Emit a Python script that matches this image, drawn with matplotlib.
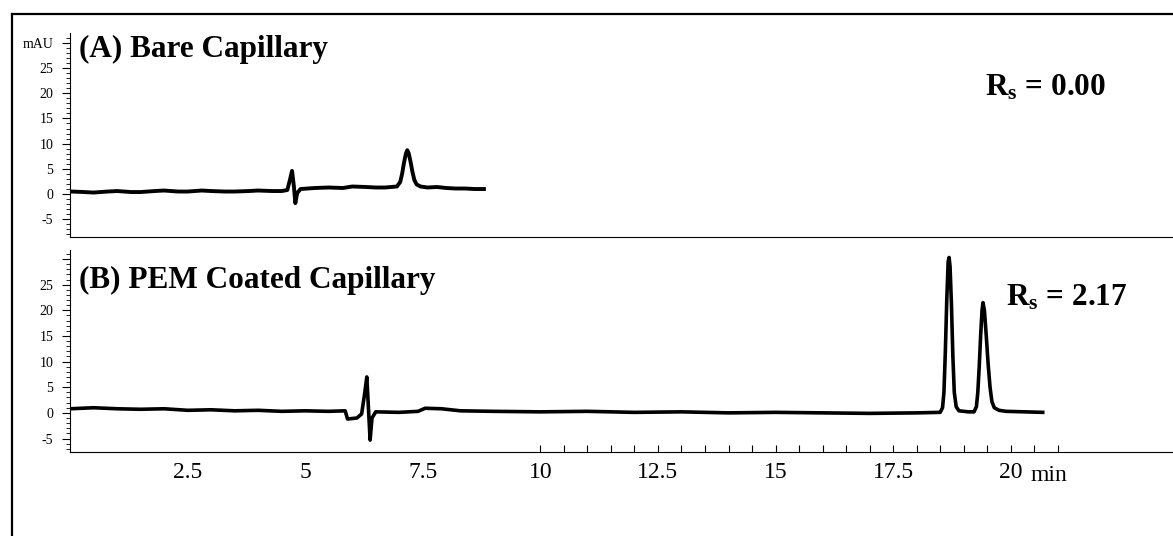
import matplotlib
matplotlib.use("Agg")
import matplotlib.pyplot as plt
from matplotlib.lines import Line2D

plt.rcParams['font.family'] = ['Liberation Serif', 'DejaVu Serif']
plt.rcParams['mathtext.fontset'] = 'custom'
plt.rcParams['mathtext.rm'] = 'Liberation Serif'
plt.rcParams['mathtext.it'] = 'Liberation Serif:italic'
plt.rcParams['mathtext.bf'] = 'Liberation Serif:bold'

# (A) bare capillary trace, time in min, signal in mAU
time_a = [0.04, 0.3, 0.5, 0.8, 1.0, 1.3, 1.5, 1.8, 2.0, 2.3, 2.5, 2.8, 3.0,
          3.3, 3.5, 3.8, 4.0, 4.3, 4.5, 4.62, 4.68, 4.72, 4.76, 4.79, 4.83,
          4.9, 5.2, 5.5, 5.8, 6.0, 6.3, 6.5, 6.7, 6.95, 7.02, 7.06, 7.10,
          7.14, 7.17, 7.20, 7.24, 7.28, 7.32, 7.37, 7.45, 7.6, 7.8, 8.0,
          8.2, 8.4, 8.6, 8.8]
signal_a = [0.5, 0.4, 0.3, 0.5, 0.6, 0.4, 0.4, 0.6, 0.7, 0.5, 0.5, 0.7, 0.6,
            0.5, 0.5, 0.6, 0.7, 0.6, 0.6, 0.8, 3.0, 4.6, 1.5, -1.8, 0.2,
            1.0, 1.2, 1.3, 1.2, 1.5, 1.4, 1.3, 1.3, 1.5, 2.4, 4.0, 6.2,
            8.0, 8.7, 8.1, 6.4, 4.4, 2.8, 1.9, 1.5, 1.3, 1.4, 1.2,
            1.1, 1.1, 1.0, 1.0]

# (B) PEM coated capillary trace
time_b = [0.0, 0.5, 1.0, 1.5, 2.0, 2.5, 3.0, 3.5, 4.0, 4.5, 5.0, 5.5, 5.85,
          5.9, 6.1, 6.2, 6.26, 6.31, 6.35, 6.38, 6.42, 6.5, 7.0, 7.4, 7.55,
          7.9, 8.3, 9.0, 10.0, 11.0, 12.0, 13.0, 14.0, 15.0, 16.0, 17.0,
          18.0, 18.5, 18.55, 18.58, 18.61, 18.64, 18.67, 18.69, 18.71, 18.74,
          18.77, 18.80, 18.84, 18.9, 19.1, 19.22, 19.27, 19.30, 19.33, 19.36,
          19.39, 19.41, 19.44, 19.48, 19.52, 19.56, 19.60, 19.65, 19.75,
          19.9, 20.3, 20.68]
signal_b = [0.8, 1.0, 0.8, 0.7, 0.8, 0.5, 0.6, 0.4, 0.5, 0.3, 0.4, 0.3, 0.4,
            -1.2, -1.0, -0.2, 3.5, 7.0, 0.0, -5.3, -1.0, 0.2, 0.1, 0.3, 0.9,
            0.8, 0.4, 0.3, 0.2, 0.3, 0.1, 0.2, 0.0, 0.1, 0.0, -0.1,
            0.0, 0.1, 1.0, 4.0, 12.0, 22.0, 29.5, 30.3, 28.5, 21.0,
            11.0, 4.0, 1.2, 0.4, 0.2, 0.2, 1.2, 4.0, 9.0, 15.0,
            20.0, 21.5, 20.0, 15.0, 9.5, 5.0, 2.2, 1.0, 0.5,
            0.3, 0.2, 0.1]

panel_labels = ["(A) Bare Capillary", "(B) PEM Coated Capillary"]
rs_labels = [r"R$_{\mathbf{s}}$ = 0.00", r"R$_{\mathbf{s}}$ = 2.17"]
x_ticks = [2.5, 5, 7.5, 10, 12.5, 15, 17.5, 20]
y_ticks = [-5, 0, 5, 10, 15, 20, 25, 30]

fig = plt.figure(figsize=(11.73, 5.36), dpi=100)
ax1 = fig.add_axes([0.0597, 0.558, 0.9403, 0.380])
ax2 = fig.add_axes([0.0597, 0.157, 0.9403, 0.377])

for ax in (ax1, ax2):
    ax.spines['top'].set_visible(False)
    ax.spines['right'].set_visible(False)
    ax.set_xlim(0, 23.45)
    ax.set_yticks(y_ticks)
    ax.set_yticks(range(-8, 32), minor=True)
    ax.tick_params(axis='y', which='major', direction='out', length=6,
                   width=0.8, labelsize=10, pad=6)
    ax.tick_params(axis='y', which='minor', direction='out', length=3,
                   width=0.6)

ax1.plot(time_a, signal_a, color='black', lw=2.8, solid_joinstyle='round')
ax1.set_ylim(-8.5, 31.9)
ax1.set_yticklabels(["-5", "0", "5", "10", "15", "20", "25", "mAU"])
ax1.set_xticks([])
ax1.text(0.2, 28.6, panel_labels[0], fontsize=22.5, fontweight='bold', va='center')
ax1.text(19.45, 21, rs_labels[0], fontsize=22.5, fontweight='bold', va='center')

ax2.plot(time_b, signal_b, color='black', lw=2.6, solid_joinstyle='round')
ax2.set_ylim(-7.6, 31.8)
ax2.set_yticklabels(["-5", "0", "5", "10", "15", "20", "25", ""])
ax2.xaxis.remove_overlapping_locs = False
ax2.set_xticks(x_ticks)
ax2.set_xticklabels(["2.5", "5", "7.5", "10", "12.5", "15", "17.5", "20"])
ax2.set_xticks([10 + 0.5 * i for i in range(23)], minor=True)
ax2.tick_params(axis='x', which='major', length=0, labelsize=17, pad=7)
ax2.tick_params(axis='x', which='minor', direction='in', length=5, width=0.8)
ax2.text(20.42, -13.2, "min", fontsize=17, va='baseline', ha='left')
ax2.text(0.2, 25.8, panel_labels[1], fontsize=22.5, fontweight='bold', va='center')
ax2.text(19.9, 22.5, rs_labels[1], fontsize=22.5, fontweight='bold', va='center')

# outer frame (top and left edges)
fig.add_artist(Line2D([0.0102, 1.0], [0.974, 0.974], color='black', lw=1.6))
fig.add_artist(Line2D([0.0102, 0.0102], [0.0, 0.974], color='black', lw=1.6))

fig.savefig("out.png", dpi=100)
